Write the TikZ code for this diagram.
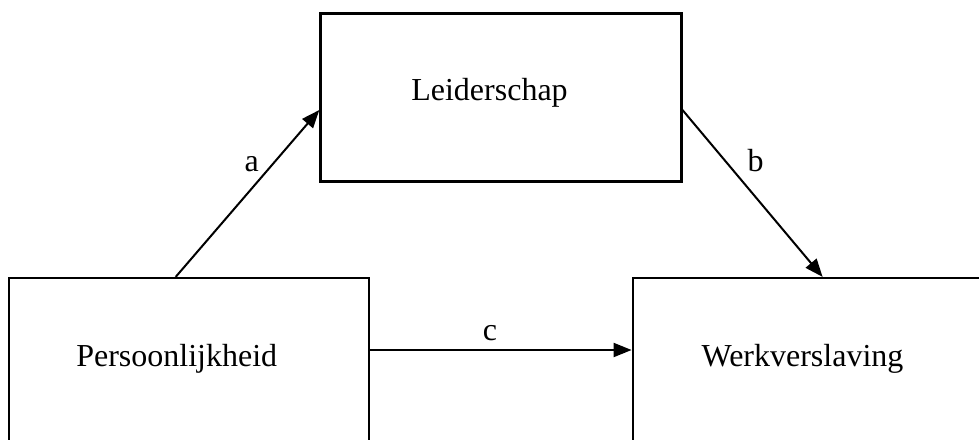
\documentclass[tikz,border=0pt]{standalone}
\usepackage{fontspec}
\setmainfont{Liberation Serif}
\usetikzlibrary{arrows.meta}
\begin{document}
\begin{tikzpicture}[x=1pt,y=-1pt,
  box/.style={draw=black,line width=2.2pt,rectangle,inner sep=0pt},
  txt/.style={font=\fontsize{32}{38}\selectfont,anchor=base,inner sep=0pt},
  conn/.style={line width=2pt,-{Triangle[length=18pt,width=14pt]}}]
\useasboundingbox[fill=white] (0,0) rectangle (979,439);
% boxes
\node[box,minimum width=361pt,minimum height=168pt] (L) at (500.9,97.5) {};
\node[box,minimum width=360pt,minimum height=170pt] (P) at (188.8,363) {};
\node[box,minimum width=460pt,minimum height=170pt] (W) at (862.7,363) {};
% texts
\node[txt] (Lt) at (489.5,100) {Leiderschap};
\node[txt] (Pt) at (176.7,366) {Persoonlijkheid};
\node[txt] (Wt) at (802.5,366) {Werkverslaving};
% connectors
\draw[conn] ([xshift=168pt]P.north west) -- ([yshift=-12.5pt]L.west);
\draw[conn] ([yshift=-12.5pt]L.east) -- ([xshift=191pt]W.north west);
\draw[conn] ([yshift=13pt]P.east) -- ([yshift=13pt]W.west);
% labels
\node[txt] (la) at (251.7,171.7) {a};
\node[txt] (lb) at (755.7,171.7) {b};
\node[txt] (lc) at (490,340.7) {c};
\end{tikzpicture}
\end{document}
